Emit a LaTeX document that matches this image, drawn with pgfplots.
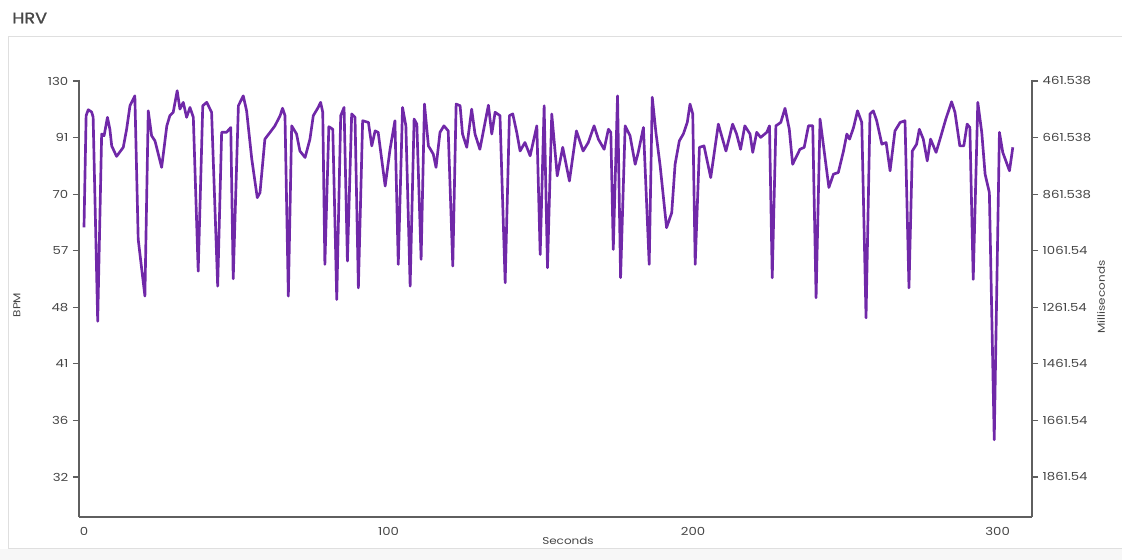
\documentclass[border=0pt]{standalone}
\usepackage{fontspec}
\setmainfont{Poppins}[FakeStretch=1.2]
\newfontfamily\titlefont{Poppins}[FakeStretch=1.15, FakeBold=1.2]
\usepackage{pgfplots}
\usepackage{pgfplotstable}
\pgfplotsset{compat=1.18}
\definecolor{hrv}{RGB}{112,40,168}
\definecolor{axgray}{RGB}{95,95,95}
\definecolor{txtgray}{RGB}{70,70,70}

\pgfplotstableread{
t ms
0 979
0.7 584
1.4 563
2.5 571
3 589
4.5 1311
5.8 649
6.6 655
7.7 590
8.5 632
9.1 691
10.7 728
12.9 696
14 632
15.1 549
16.7 514
17.8 1021
20 1222
21.1 567
22.2 655
23.3 673
25.5 767
27.2 620
28.2 584
29.3 572
30.6 496
31.5 561
32.6 537
33.7 590
34.8 555
35.9 590
37.5 1134
39 549
40.3 537
41.9 572
43.9 1187
45.2 643
46.8 643
48.2 626
49 1161
50.7 549
52.3 514
53.4 567
55.1 738
56.9 874
57.8 856
59.4 667
61.1 643
62.7 620
64.4 584
65.2 558
66 584
67.1 1222
68.2 620
69.8 649
70.9 709
72.6 732
74.2 667
75.3 584
76.9 555
77.7 537
78.4 572
79.1 1110
80.4 623
81.7 632
83 1234
84.3 584
85.4 555
86.5 1098
87.9 578
89 590
90.1 1193
91.5 602
93.4 608
94.5 691
95.6 638
96.6 643
98.9 833
100.5 703
102.1 602
103.2 1110
104.6 555
105.7 620
107.1 1187
108.4 596
109.3 614
110.7 1092
111.8 543
113.1 691
114.7 720
115.6 767
116.9 643
118.2 620
119.6 638
121.1 1116
122.2 543
123.5 549
124.3 649
125.7 696
127.3 561
128.4 649
130 703
131.7 608
132.8 547
133.9 649
135 572
136.6 584
138.3 1175
139.7 584
140.8 578
142.1 643
143.2 709
144.8 679
146.5 726
148.7 620
149.8 1075
151.1 549
152.2 1122
153.6 578
155.4 797
157.2 696
159.4 815
161.7 638
163.9 709
165.6 679
167.5 620
168.9 667
170.8 703
172.2 632
173 643
173.8 1057
175.2 514
176.2 1157
177.7 620
179.3 655
181 756
182 714
183.7 626
185.6 1110
186.6 519
187.8 643
189.2 762
191.3 980
193 927
194.1 756
195.5 673
196.8 649
198.1 608
199 543
199.9 578
200.7 1110
202.1 696
203.6 691
205.8 803
208.3 614
210.8 709
213 614
214.3 649
215.6 703
217 620
218.7 649
219.6 714
220.9 643
222.2 661
224.2 643
225.1 620
226 1157
227.2 620
228.8 608
230.2 558
231.6 632
232.7 756
235.1 703
236.5 696
237.9 620
239.3 620
240.4 1228
241.7 596
244.6 838
246.1 791
247.7 785
249.4 709
250.5 649
251.4 667
252.7 626
254 567
255.4 608
256.8 1299
258.1 578
259.2 567
260.3 602
262 685
263.4 679
264.7 779
266.3 638
268 608
269.6 602
270.9 1193
272 709
273.4 685
274.3 632
275.6 667
276.9 744
278 667
279.8 714
281.1 667
283 596
284.9 535
286 572
287.6 691
288.9 691
290 614
290.9 626
292 1163
293.5 537
294.8 643
295.9 791
297.3 856
298.9 1730
300.6 643
301.7 714
303.9 779
305 696
}\hrvdata

\pgfplotsset{hrvax/.style={
  scale only axis, width=714.75pt, height=327.75pt,
  at={(59.25pt,32.25pt)}, anchor=south west,
  xmin=-1.64, xmax=311.3, ymin=458, ymax=2003, y dir=reverse,
  ytick={461.538,661.538,861.538,1061.538,1261.538,1461.538,1661.538,1861.538},
  axis line style={axgray, line width=0.8pt},
  tick style={axgray, line width=0.8pt},
  tick align=outside, major tick length=4.5pt,
  tick label style={font=\fontsize{8.3}{9}\selectfont, text=txtgray},
  /pgf/number format/assume math mode=true,
  clip=false
}}

\begin{document}
\begin{tikzpicture}[x=1pt,y=1pt]
\useasboundingbox (0,0) rectangle (841.5,420);
\fill[gray!6] (0,0) rectangle (841.5,8.25);
\draw[gray!25, line width=0.75pt] (850,8.25) -- (6,8.25) -- (6,392.25) -- (850,392.25);
\node[anchor=west, font=\titlefont\fontsize{11.5}{14}\selectfont, text=black!72, inner sep=0pt] at (9,406.5) {HRV};

\begin{axis}[hrvax, axis x line*=bottom, axis y line*=left,
  xtick={0,100,200,300}, x tick style={draw=none},
  yticklabels={130,91,70,57,48,41,36,32}]
\addplot[hrv, line width=2pt, line join=round, mark=none] table[x=t, y=ms] {\hrvdata};
\end{axis}
\begin{axis}[hrvax, axis x line=none, axis y line*=right,
  yticklabels={461.538,661.538,861.538,1061.54,1261.54,1461.54,1661.54,1861.54}]
\end{axis}

\node[font=\fontsize{7.5}{9}\selectfont, text=txtgray] at (426,14.25) {Seconds};
\node[font=\fontsize{7.5}{9}\selectfont, text=txtgray, rotate=90] at (12.75,191.25) {BPM};
\node[font=\fontsize{7.5}{9}\selectfont, text=txtgray, rotate=90] at (825.75,197.25) {Milliseconds};
\end{tikzpicture}
\end{document}
